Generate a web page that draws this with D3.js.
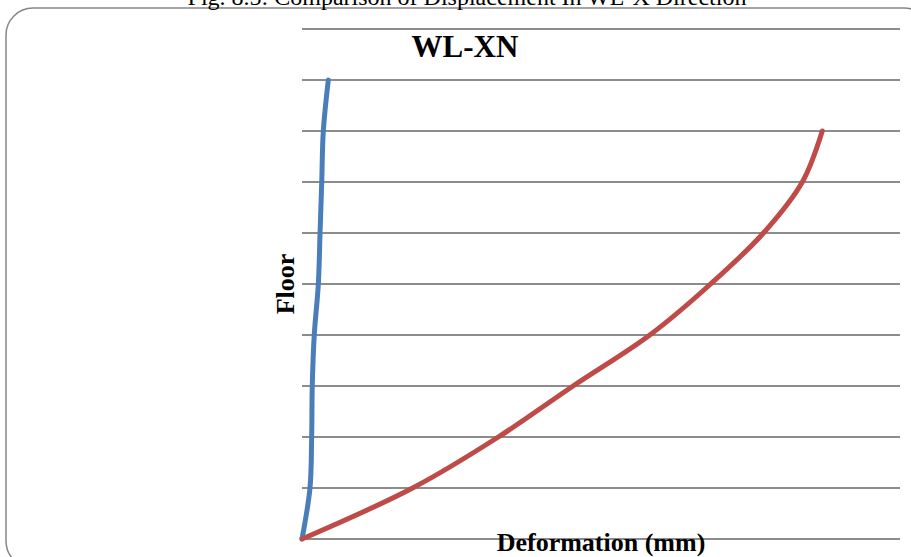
<!DOCTYPE html>
<html>
<head>
  <title>WL-XN</title>
  <script src="https://d3js.org/d3.v7.min.js"></script>
  <style>
    body { margin: 0; background: #fff; }
    text { font-family: "Times New Roman", "Liberation Serif", serif; }
  </style>
</head>
<body>
<div id="chart"></div>
<script>
  // floors 0..10 on the y axis, deformation in mm on the x axis
  const floors = [0, 1, 2, 3, 4, 5, 6, 7, 8, 9];
  const blueValues = [0, 0.8, 0.97, 1.03, 1.23, 1.64, 1.81, 1.98, 2.14, 2.64];
  const redValues = [0, 11.1, 19.7, 27.2, 34.9, 41.0, 46.3, 50.2, 52.2];
  const floorTicks = [0, 1, 2, 3, 4, 5, 6, 7, 8, 9, 10];

  const width = 911;
  const height = 557;

  const svg = d3.select("#chart")
          .append("svg")
          .attr("width", width)
          .attr("height", height);

  // rounded chart frame
  svg.append("rect")
          .attr("x", 6)
          .attr("y", 8)
          .attr("width", 925)
          .attr("height", 560)
          .attr("rx", 27)
          .attr("fill", "none")
          .attr("stroke", "#868686")
          .attr("stroke-width", 1.5);

  // figure caption, cut at the top edge as in the source
  svg.append("text")
          .attr("x", 467)
          .attr("y", 5)
          .attr("text-anchor", "middle")
          .attr("font-size", 24)
          .text("Fig. 8.5: Comparison of Displacement In WL-X Direction");

  const x = d3.scaleLinear()
          .domain([0, 60])
          .range([302, 900]);

  const y = d3.scaleLinear()
          .domain([0, 10])
          .range([539, 29]);

  svg.append("g")
          .selectAll("line")
          .data(floorTicks)
          .join("line")
          .attr("x1", x(0))
          .attr("x2", x(60))
          .attr("y1", d => y(d))
          .attr("y2", d => y(d))
          .attr("stroke", "#8c8c8c")
          .attr("stroke-width", 1.8);

  const line = d3.line()
          .x(d => x(d[0]))
          .y(d => y(d[1]))
          .curve(d3.curveCatmullRom);

  svg.append("path")
          .datum(blueValues.map((v, i) => [v, floors[i]]))
          .attr("d", line)
          .attr("fill", "none")
          .attr("stroke", "#4a7ebb")
          .attr("stroke-width", 5)
          .attr("stroke-linecap", "round");

  svg.append("path")
          .datum(redValues.map((v, i) => [v, floors[i]]))
          .attr("d", line)
          .attr("fill", "none")
          .attr("stroke", "#be4b48")
          .attr("stroke-width", 5)
          .attr("stroke-linecap", "round");

  svg.append("text")
          .attr("x", 465)
          .attr("y", 57)
          .attr("text-anchor", "middle")
          .attr("font-size", 31)
          .attr("font-weight", "bold")
          .text("WL-XN");

  svg.append("text")
          .attr("transform", "translate(294,284) rotate(-90)")
          .attr("text-anchor", "middle")
          .attr("font-size", 26)
          .attr("font-weight", "bold")
          .text("Floor");

  svg.append("text")
          .attr("x", 601)
          .attr("y", 551)
          .attr("text-anchor", "middle")
          .attr("font-size", 26)
          .attr("font-weight", "bold")
          .text("Deformation (mm)");
</script>
</body>
</html>
